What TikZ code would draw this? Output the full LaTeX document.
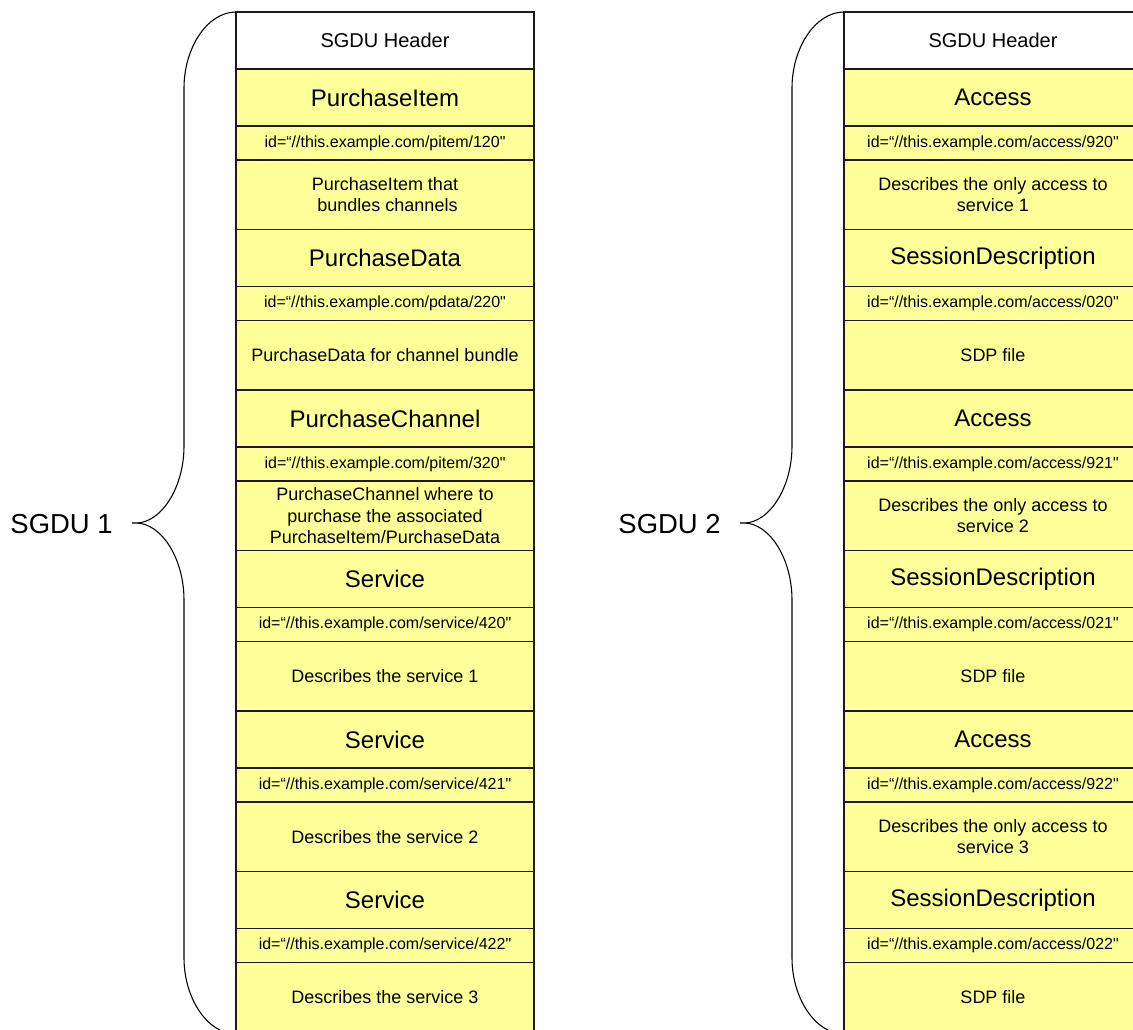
\documentclass[tikz,border=0pt]{standalone}
\usepackage{fontspec}
\setmainfont{Liberation Sans}[Ligatures=TeXOff]
\definecolor{yel}{HTML}{FFFF99}
\newcommand\grp[6]{%
  \node[ttl] (#1t) at (#2,#3) {#4};
  \node[idc] (#1i) at (#1t.south west) {#5};
  \node[dsc] (#1d) at (#1i.south west) {#6};}
\newcommand\sgbrace[1]{%
  \draw[brace] (#1,12) .. controls ({#1-28.7},12) and ({#1-52},48) .. ({#1-52},88)
    -- ({#1-52},446) .. controls ({#1-52},488) and ({#1-75},523) .. ({#1-100},523) -- ({#1-104},523)
    -- ({#1-100},523) .. controls ({#1-75},523) and ({#1-52},558) .. ({#1-52},600)
    -- ({#1-52},958) .. controls ({#1-52},998) and ({#1-28.7},1034) .. (#1,1034);}
\begin{document}
\begin{tikzpicture}[x=0.75pt,y=-0.75pt,
  cell/.style={draw=black!90, line width=1.1pt, rectangle, inner sep=0pt, outer sep=0pt,
    minimum width=223.5pt, anchor=north west, align=center},
  hdr/.style={cell, fill=white, minimum height=42.75pt, font=\fontsize{15}{18}\selectfont},
  ttl/.style={cell, fill=yel, minimum height=42.75pt, font=\fontsize{18}{21}\selectfont},
  idc/.style={cell, fill=yel, minimum height=25.5pt, font=\fontsize{12}{14}\selectfont},
  dsc/.style={cell, fill=yel, minimum height=52.125pt, font=\fontsize{13.5}{16}\selectfont},
  brace/.style={draw=black, line width=0.8pt},
  lbl/.style={anchor=east, inner sep=0pt, font=\fontsize{20.6}{24}\selectfont}]
\useasboundingbox (0,0) rectangle (1133,1030);
\clip (0,0) rectangle (1133,1030);
% left SGDU
\node[hdr] (lh) at (236,12) {SGDU Header};
\grp{la}{236}{69}{PurchaseItem}{id=“//this.example.com/pitem/120"}{PurchaseItem that\\\ bundles channels}
\grp{lb}{236}{229.5}{PurchaseData}{id=“//this.example.com/pdata/220"}{PurchaseData for channel bundle}
\grp{lc}{236}{390}{PurchaseChannel}{id=“//this.example.com/pitem/320"}{PurchaseChannel where to\\purchase the associated\\PurchaseItem/PurchaseData}
\grp{ld}{236}{550.5}{Service}{id=“//this.example.com/service/420"}{Describes the service 1}
\grp{le}{236}{711}{Service}{id=“//this.example.com/service/421"}{Describes the service 2}
\grp{lf}{236}{871.5}{Service}{id=“//this.example.com/service/422"}{Describes the service 3}
\sgbrace{236}
\node[lbl] (l1) at (113,524) {SGDU 1};
% right SGDU
\node[hdr] (rh) at (844,12) {SGDU Header};
\grp{ra}{844}{69}{Access}{id=“//this.example.com/access/920"}{Describes the only access to\\service 1}
\grp{rb}{844}{229.5}{SessionDescription}{id=“//this.example.com/access/020"}{SDP file}
\grp{rc}{844}{390}{Access}{id=“//this.example.com/access/921"}{Describes the only access to\\service 2}
\grp{rd}{844}{550.5}{SessionDescription}{id=“//this.example.com/access/021"}{SDP file}
\grp{re}{844}{711}{Access}{id=“//this.example.com/access/922"}{Describes the only access to\\service 3}
\grp{rf}{844}{871.5}{SessionDescription}{id=“//this.example.com/access/022"}{SDP file}
\sgbrace{844}
\node[lbl] (l2) at (721,524) {SGDU 2};
\end{tikzpicture}
\end{document}
